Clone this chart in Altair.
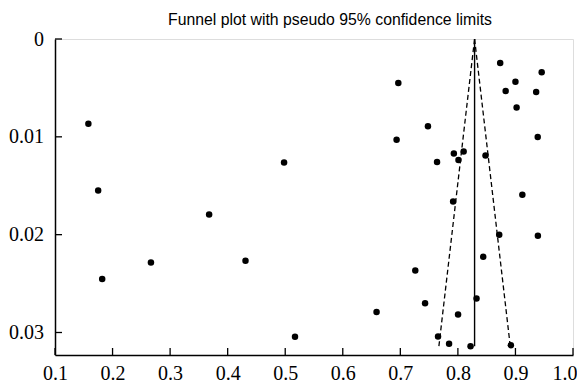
import altair as alt
import pandas as pd

# Study estimates (x) and standard errors (y)
est = [0.158, 0.498, 0.175, 0.8735, 0.9456, 0.6965, 0.900, 0.883, 0.936, 0.902,
       0.748, 0.6935, 0.9387, 0.793, 0.810, 0.801, 0.848, 0.7638, 0.912, 0.7917,
       0.3678, 0.2667, 0.431, 0.182, 0.517, 0.8718, 0.939, 0.844, 0.726, 0.8324,
       0.743, 0.6587, 0.8003, 0.7655, 0.7847, 0.822, 0.892]
se = [0.00866, 0.01262, 0.01548, 0.00245, 0.00341, 0.0045, 0.00437, 0.00532, 0.00542, 0.00699,
      0.00893, 0.0103, 0.01002, 0.0117, 0.0115, 0.01237, 0.0119, 0.01258, 0.01592, 0.0166,
      0.01793, 0.02284, 0.02267, 0.02454, 0.03044, 0.02001, 0.02011, 0.02226, 0.02366, 0.02652,
      0.027, 0.02791, 0.02816, 0.0304, 0.03116, 0.0314, 0.0313]

# Pooled estimate line and pseudo 95% limits
pooled_x = [0.829, 0.829]
limit_se = [0.0, 0.0314]
lower_x = [0.829, 0.767]
upper_x = [0.829, 0.891]

x_ticks = [0.1, 0.2, 0.3, 0.4, 0.5, 0.6, 0.7, 0.8, 0.9, 1.0]
y_ticks = [0.0, 0.01, 0.02, 0.03]

W, H = 518, 316

pts = pd.DataFrame({"x": est, "y": se})
pooled = pd.DataFrame({"x": pooled_x, "y": limit_se})
lim = pd.DataFrame({"x": lower_x + upper_x, "y": limit_se + limit_se,
                    "side": ["lower", "lower", "upper", "upper"]})
xt = pd.DataFrame({"x": x_ticks})
yt = pd.DataFrame({"y": y_ticks})

xscale = alt.Scale(domain=[0.1, 1.0], nice=False, zero=False)
yscale = alt.Scale(domain=[0, 0.0323], nice=False, zero=False, reverse=True)

xaxis = alt.Axis(values=x_ticks, title=None, grid=False, ticks=False,
                 labelFont="Liberation Serif", labelFontSize=20, labelColor="black",
                 labelPadding=8, domainColor="black", domainWidth=1.5,
                 labelExpr="format(datum.value, '.1f')", labelOverlap=False,
                 labelAlign={"condition": {"test": "datum.value >= 0.95", "value": "right"},
                             "value": "center"},
                 labelOffset={"condition": {"test": "datum.value >= 0.95", "value": 4},
                              "value": 0})
yaxis = alt.Axis(values=y_ticks, title=None, grid=False, ticks=False,
                 labelFont="Liberation Serif", labelFontSize=20, labelColor="black",
                 labelPadding=11.5, domainColor="black", domainWidth=1.5,
                 labelExpr="datum.value == 0 ? '0' : format(datum.value, '.2f')",
                 labelOverlap=False)

points = alt.Chart(pts).mark_circle(color="black", opacity=1, size=42).encode(
    x=alt.X("x:Q", scale=xscale, axis=xaxis),
    y=alt.Y("y:Q", scale=yscale, axis=yaxis),
)

pooled_line = alt.Chart(pooled).mark_line(color="black", strokeWidth=1.4).encode(
    x="x:Q", y="y:Q"
)

limits = alt.Chart(lim).mark_line(color="black", strokeWidth=1.3, strokeDash=[5, 3]).encode(
    x="x:Q", y="y:Q", detail="side:N"
)

xtick_marks = alt.Chart(xt).mark_rule(color="black", strokeWidth=1.3).encode(
    x="x:Q", y=alt.value(H), y2=alt.value(H - 7)
)
ytick_marks = alt.Chart(yt).mark_rule(color="black", strokeWidth=1.3).encode(
    y="y:Q", x=alt.value(0), x2=alt.value(7)
)

chart = alt.layer(points, limits, pooled_line, xtick_marks, ytick_marks).properties(
    width=W, height=H,
    title=alt.TitleParams(
        "Funnel plot with pseudo 95% confidence limits",
        font="Liberation Sans", fontSize=15.8, fontWeight="normal", color="black",
        anchor="start", frame="group", dx=113, offset=0, dy=11.7, baseline="alphabetic",
    ),
    autosize=alt.AutoSizeParams(type="none"),
    padding={"left": 47, "top": 31, "right": 4, "bottom": 29},
).configure_view(stroke=None).configure(background="white")

chart.save("out.html", embed_options={"renderer": "svg", "actions": False})
